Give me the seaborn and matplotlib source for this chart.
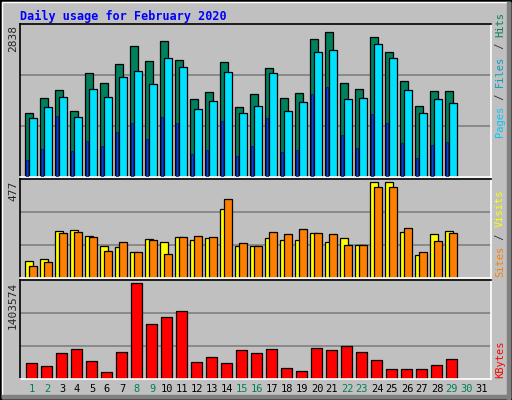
import matplotlib
matplotlib.use("Agg")
import matplotlib.pyplot as plt
import seaborn as sns
import numpy as np
from matplotlib.patches import Rectangle

sns.set_style("white")
plt.rcParams['font.family'] = ['DejaVu Sans Mono']

days = list(range(1, 32))
hits = [1228,1510,1660,1266,1980,1792,2168,2506,2224,2600,2243,1491,1623,2205,1341,1585,2074,1510,1604,2638,2769,1792,1679,2675,2393,1829,1360,1641,1641]
files = [1134,1341,1529,1153,1679,1529,1905,2017,1773,2280,2093,1303,1453,1999,1228,1360,1980,1266,1435,2393,2431,1491,1510,2544,2280,1660,1228,1491,1416]
pages = [326,533,1172,495,683,589,852,1040,720,1153,1040,439,514,1078,401,589,1134,476,514,1585,1717,796,551,1209,1040,645,363,608,664]
visits = [84,95,234,239,208,157,152,131,193,177,203,188,198,343,157,157,198,188,188,224,177,198,162,477,477,229,115,219,234]
sites = [59,79,224,229,203,136,177,131,188,121,203,208,203,394,172,157,229,219,245,224,219,162,162,451,451,250,131,183,224]
kbytes = [235000,190000,374000,435000,266000,97000,389000,1403574,804000,912000,989000,251000,328000,235000,420000,374000,435000,159000,113000,451000,420000,482000,389000,282000,143000,143000,143000,205000,297000]
weekend = [1,2,8,9,15,16,22,23,29,30]
max_hits, max_sites, max_kb = 2838, 477, 1403574

BG = "#c0c0c0"
fig = plt.figure(figsize=(5.12, 4.0), dpi=100)
fig.patch.set_facecolor(BG)
W, H = 512, 400
def rect(x0, y0, x1, y1):
    return [x0 / W, 1 - y1 / H, (x1 - x0) / W, (y1 - y0) / H]

fig.patches.append(Rectangle((0, 0), 1, 1, transform=fig.transFigure, fill=False, ec="black", lw=2))
fig.patches.append(Rectangle((2/W, 2/H), 1-4/W, 1-4/H, transform=fig.transFigure, fill=False, ec="white", lw=1))
fig.patches.append(Rectangle((507/W, 0), 3/W, 1-2/H, transform=fig.transFigure, color="#808080"))
fig.patches.append(Rectangle((2/W, 2/H), 1-4/W, 3/H, transform=fig.transFigure, color="#808080"))

axes = [fig.add_axes(rect(20, 24, 491, 177)),
        fig.add_axes(rect(20, 179, 491, 278)),
        fig.add_axes(rect(20, 280, 491, 379))]
n = len(hits)
x = np.arange(n)
for ax, top in zip(axes, [max_hits * 1.03, max_sites * 1.03, max_kb * 1.03]):
    ax.set_facecolor(BG)
    ax.set_xlim(0, 31.4)
    ax.set_ylim(0, top)
    ax.set_xticks([]); ax.set_yticks([])
    for y in (top / 3, 2 * top / 3):
        ax.axhline(y, color="#808080", lw=1.2, zorder=0)
    ax.spines['left'].set_color('black'); ax.spines['top'].set_color('black')
    ax.spines['right'].set_color('white'); ax.spines['bottom'].set_color('white')
    for s in ax.spines.values():
        s.set_linewidth(1.2)

kw = dict(align="edge", edgecolor="black", linewidth=0.9, zorder=2)
a = axes[0]
a.bar(x + 0.33, hits, width=0.55, color="#00805c", **kw)
a.bar(x + 0.6, files, width=0.5, color="#00e0ff", **kw)
a.bar(x + 0.4, pages, width=0.13, color="#0040ff", edgecolor="#000040", linewidth=0.4, align="edge", zorder=3)
a = axes[1]
a.bar(x + 0.33, visits, width=0.55, color="#ffff00", **kw)
a.bar(x + 0.6, sites, width=0.5, color="#ff8000", **kw)
sns.barplot(x=x + 0.77, y=kbytes, native_scale=True, width=0.7, color="#ff0000",
            saturation=1, edgecolor="black", linewidth=0.9, ax=axes[2], zorder=2)
axes[2].set_xlim(0, 31.4); axes[2].set_xticks([]); axes[2].set_yticks([])

fig.text(20/W, 1 - 16/H, "Daily usage for February 2020", color="#0000ff",
         fontsize=8.5, fontweight="bold", va="center")
for label, ytop in [(str(max_hits), 25), (str(max_sites), 181), (str(max_kb), 282)]:
    fig.text(13/W, 1 - ytop/H, label, rotation=90, fontsize=8, va="top", ha="center")

def vstack(parts, ybottom, fs=7.5):
    cw = 0.602 * fs * 100 / 72
    y = ybottom
    for txt, col in parts:
        fig.text(500/W, 1 - y/H, txt, rotation=90, fontsize=fs, color=col,
                 va="bottom", ha="center")
        y -= cw * len(txt)
vstack([("Pages", "#00c8ff"), (" / ", "#333333"), ("Files", "#00a0c0"), (" / ", "#333333"), ("Hits", "#00805c")], 137)
vstack([("Sites", "#ff8000"), (" / ", "#333333"), ("Visits", "#ffff00")], 277)
vstack([("KBytes", "#ff0000")], 378)

for d in days:
    xp = 20 + (d - 1) * 15.0 + 12
    fig.text(xp/W, 1 - 389/H, str(d), fontsize=7.5, ha="center", va="center",
             color="#00805c" if d in weekend else "black")

fig.savefig("out.png", dpi=100, facecolor=BG)
